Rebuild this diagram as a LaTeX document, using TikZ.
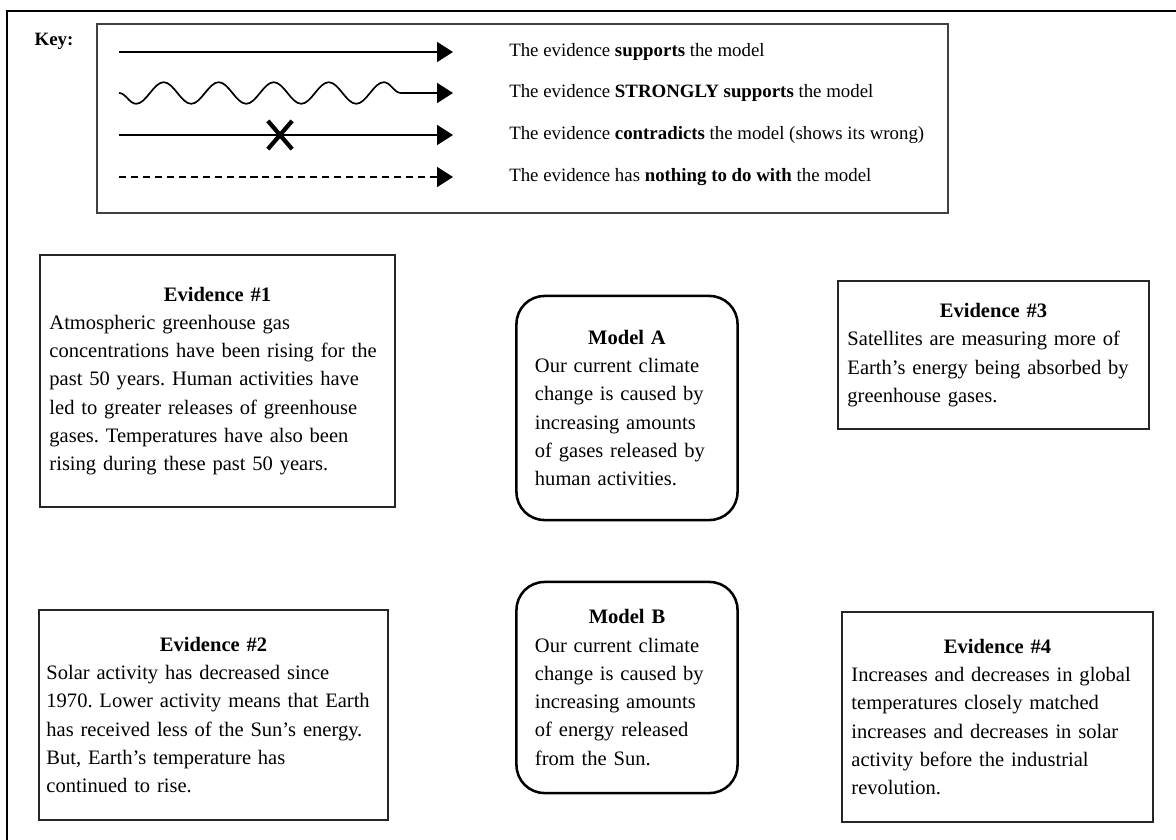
\documentclass[tikz,border=0pt]{standalone}
\usepackage{fontspec}
\setmainfont{Liberation Serif}
\usetikzlibrary{arrows.meta,decorations.pathmorphing,shapes.misc}
\frenchspacing

\begin{document}
\begin{tikzpicture}[x=0.025cm, y=-0.025cm,
  keyarrow/.style={line width=1.2pt, -{Triangle[length=0.4cm, width=0.5cm]}},
  keytext/.style={anchor=west, inner sep=0pt, font=\fontsize{13.4}{15}\selectfont},
  evbox/.style={draw, line width=0.9pt, draw=black!85, inner sep=0pt, font=\fontsize{14.6}{20.1}\selectfont},
  modelbox/.style={draw, line width=1.8pt, rounded corners=0.7cm, inner sep=0pt, text width=4.6cm, minimum width=5.525cm, font=\fontsize{14.6}{20.1}\selectfont}]

\useasboundingbox (0,0) rectangle (1176,840);

% outer frame, only top and left edges are visible
\draw[line width=1.5pt] (7,840) -- (7,11) -- (1176,11);

% Key box
\draw[line width=0.9pt, draw=black!75] (97,24) rectangle (948,213);
\node[font=\bfseries\fontsize{13.4}{15}\selectfont] (keylbl) at (54,41) {Key:};

% start and end points of the key arrows
\coordinate (s1) at (119,52);  \coordinate (e1) at (453,52);
\coordinate (s2) at (119,93);  \coordinate (e2) at (453,93);
\coordinate (s3) at (119,135); \coordinate (e3) at (453,135);
\coordinate (s4) at (119,177); \coordinate (e4) at (453,177);

\draw[keyarrow] (s1) -- (e1);
\draw[keyarrow, decorate, decoration={snake, mirror, segment length=1.375cm, amplitude=0.27cm, post length=0.85cm}] (s2) -- (e2);
\draw[keyarrow] (s3) -- (e3);
\node[cross out, draw, line width=3pt, minimum width=0.5cm, minimum height=0.6cm, inner sep=0pt] (xmark) at (280,135) {};
\draw[keyarrow, dash pattern=on 5pt off 3.5pt] (s4) -- (e4);

\node[keytext] (k1) at (509,52) {The evidence \textbf{supports} the model};
\node[keytext] (k2) at (509,93) {The evidence \textbf{STRONGLY supports} the model};
\node[keytext] (k3) at (509,135) {The evidence \textbf{contradicts} the model (shows its wrong)};
\node[keytext] (k4) at (509,177) {The evidence has \textbf{nothing to do with} the model};

% Evidence boxes
\node[evbox, text width=8.4cm, minimum width=8.875cm, minimum height=6.3cm] (ev1) at (217.5,381) {\centering\textbf{Evidence \#1}\par\raggedright
Atmospheric greenhouse gas\\
concentrations have been rising for the\\
past 50 years. Human activities have\\
led to greater releases of greenhouse\\
gases. Temperatures have also been\\
rising during these past 50 years.};

\node[evbox, text width=7.3cm, minimum width=7.775cm, minimum height=3.7cm] (ev3) at (993.5,355) {\centering\textbf{Evidence \#3}\par\raggedright
Satellites are measuring more of\\
Earth’s energy being absorbed by\\
greenhouse gases.};

\node[evbox, text width=8.35cm, minimum width=8.725cm, minimum height=5.25cm] (ev2) at (213.5,715) {\centering\textbf{Evidence \#2}\par\raggedright
Solar activity has decreased since\\
1970. Lower activity means that Earth\\
has received less of the Sun’s energy.\\
But, Earth’s temperature has\\
continued to rise.};

\node[evbox, text width=7.3cm, minimum width=7.775cm, minimum height=5.25cm] (ev4) at (997.5,717) {\centering\textbf{Evidence \#4}\par\raggedright
Increases and decreases in global\\
temperatures closely matched\\
increases and decreases in solar\\
activity before the industrial\\
revolution.};

% Models
\node[modelbox, minimum height=5.6cm] (modA) at (627,408) {\centering\textbf{Model A}\par\raggedright
Our current climate\\
change is caused by\\
increasing amounts\\
of gases released by\\
human activities.};

\node[modelbox, minimum height=5.275cm] (modB) at (627,687.5) {\centering\textbf{Model B}\par\raggedright
Our current climate\\
change is caused by\\
increasing amounts\\
of energy released\\
from the Sun.};

\end{tikzpicture}
\end{document}
